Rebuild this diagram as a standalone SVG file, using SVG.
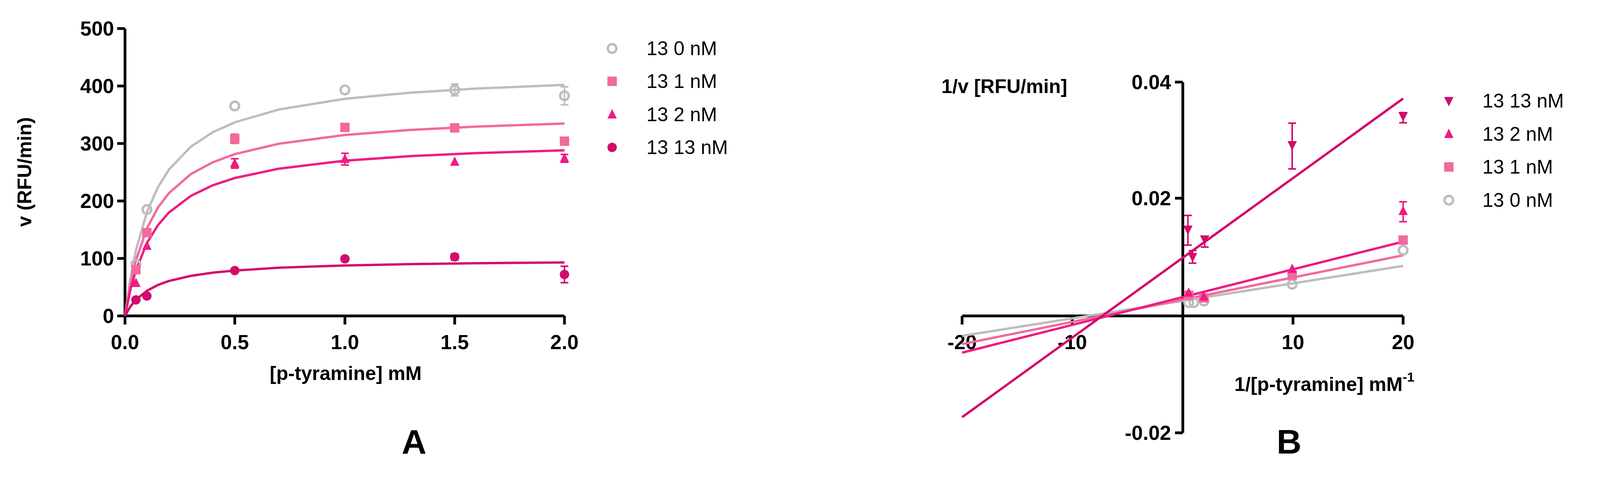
<svg xmlns="http://www.w3.org/2000/svg" width="4116" height="1220" viewBox="0 0 4116 1220">
<style>
text{font-family:"Liberation Sans",Arial,sans-serif;fill:#000}
.tk{font-size:52px;font-weight:bold}
.tl{font-size:50px;font-weight:bold}
.lg{font-size:50px}
.ax{stroke:#000;stroke-width:7;fill:none}
.c0{stroke:#bdbdbd;fill:#bdbdbd}
.c1{stroke:#f26a9b;fill:#f26a9b}
.c2{stroke:#ee1c84;fill:#ee1c84}
.c3{stroke:#d20c6b;fill:#d20c6b}
.fit{fill:none;stroke-width:6}
.eb{fill:none;stroke-width:4}
</style>
<defs>
<circle id="mc" r="11" fill="none" stroke-width="6"/>
<rect id="ms" x="-12" y="-12" width="24" height="24" stroke="none"/>
<polygon id="mu" points="0,-14 12,10 -12,10" stroke="none"/>
<polygon id="md" points="0,14 12,-10 -12,-10" stroke="none"/>
<circle id="mf" r="12" stroke="none"/>
</defs>
<g id="panelA">
<g id="axesA">
<path class="ax" d="M320,73 V808 H1445 M300,73 H320 M300,220 H320 M300,367 H320 M300,514 H320 M300,661 H320 M300,808 H320 M320,808 V830 M601,808 V830 M883,808 V830 M1164,808 V830 M1445,808 V830"/>
<g class="tk" text-anchor="end">
<text x="292" y="91">500</text><text x="292" y="238">400</text><text x="292" y="385">300</text><text x="292" y="532">200</text><text x="292" y="679">100</text><text x="292" y="826">0</text>
</g>
<g class="tk" text-anchor="middle">
<text x="320" y="893">0.0</text><text x="601" y="893">0.5</text><text x="883" y="893">1.0</text><text x="1164" y="893">1.5</text><text x="1445" y="893">2.0</text>
</g>
<text class="tl" text-anchor="middle" transform="translate(80,440) rotate(-90)">v (RFU/min)</text>
<text class="tl" x="885" y="972" text-anchor="middle">[p-tyramine] mM</text>
<text x="1060" y="1160" text-anchor="middle" font-size="88" font-weight="bold">A</text>
</g>
<g id="fitsA">
<polyline class="fit c0" points="320,808 334,710.8 348.1,639.5 376.3,542.1 404.4,478.6 432.5,433.7 488.8,375 545,338 601.3,312.7 713.8,280.1 882.5,252.8 1051.3,236.9 1220,226.5 1445,217.1"/>
<polyline class="fit c1" points="320,808 334,725.5 348.1,665.4 376.3,583.7 404.4,530.8 432.5,493.7 488.8,445.2 545,414.9 601.3,394.2 713.8,367.6 882.5,345.2 1051.3,332.3 1220,323.8 1445,316.1"/>
<polyline class="fit c2" points="320,808 334,740.5 348.1,690.5 376.3,621.3 404.4,575.7 432.5,543.5 488.8,500.8 545,473.9 601.3,455.2 713.8,431.4 882.5,411.1 1051.3,399.3 1220,391.5 1445,384.6"/>
<polyline class="fit c3" points="320,808 334,783.8 348.1,766.5 376.3,743.5 404.4,728.8 432.5,718.6 488.8,705.5 545,697.3 601.3,691.9 713.8,684.8 882.5,678.9 1051.3,675.5 1220,673.3 1445,671.3"/>
</g>
<g id="errA">
<path class="eb c0" d="M1164,215 V245 M1154,215 H1174 M1154,245 H1174 M1445,222 V268 M1435,222 H1455 M1435,268 H1455"/>
<path class="eb c1" d="M601,343 V367 M591,343 H611 M591,367 H611 M883,316 V336 M873,316 H893 M873,336 H893"/>
<path class="eb c2" d="M601,406 V430 M591,406 H611 M591,430 H611 M883,392 V422 M873,392 H893 M873,422 H893 M1445,395 V415 M1435,395 H1455 M1435,415 H1455"/>
<path class="eb c3" d="M1164,649 V665 M1154,649 H1174 M1154,665 H1174 M1445,681 V723 M1435,681 H1455 M1435,723 H1455"/>
</g>
<g id="ptsA">
<g class="c0"><use href="#mc" x="348" y="676"/><use href="#mc" x="376" y="536"/><use href="#mc" x="601" y="271"/><use href="#mc" x="883" y="230"/><use href="#mc" x="1164" y="230"/><use href="#mc" x="1445" y="245"/></g>
<g class="c1"><use href="#ms" x="348" y="690"/><use href="#ms" x="376" y="595"/><use href="#ms" x="601" y="355"/><use href="#ms" x="883" y="326"/><use href="#ms" x="1164" y="327"/><use href="#ms" x="1445" y="361"/></g>
<g class="c2"><use href="#mu" x="348" y="724"/><use href="#mu" x="376" y="629"/><use href="#mu" x="601" y="418"/><use href="#mu" x="883" y="407"/><use href="#mu" x="1164" y="414"/><use href="#mu" x="1445" y="405"/></g>
<g class="c3"><use href="#mf" x="348" y="767"/><use href="#mf" x="376" y="757"/><use href="#mf" x="601" y="692"/><use href="#mf" x="883" y="662"/><use href="#mf" x="1164" y="657"/><use href="#mf" x="1445" y="702"/></g>
</g>
<g id="legendA">
<use href="#mc" class="c0" x="1567" y="124"/><text class="lg" x="1655" y="141">13  0 nM</text>
<use href="#ms" class="c1" x="1567" y="208"/><text class="lg" x="1655" y="225">13  1 nM</text>
<use href="#mu" class="c2" x="1567" y="293"/><text class="lg" x="1655" y="310">13  2 nM</text>
<use href="#mf" class="c3" x="1567" y="377"/><text class="lg" x="1655" y="394">13  13 nM</text>
</g>
</g>
<g id="panelB">
<g id="axesB">
<path class="ax" d="M3028,210 V1107 M2463,808 H3592 M3008,210 H3028 M3008,507 H3028 M3008,1107 H3028 M2463,808 V830 M2745,808 V830 M3310,808 V830 M3592,808 V830"/>
<g class="tk" text-anchor="end">
<text x="2998" y="228">0.04</text><text x="2998" y="525">0.02</text><text x="2998" y="1125">-0.02</text>
</g>
<g class="tk" text-anchor="middle">
<text x="2463" y="893">-20</text><text x="2745" y="893">-10</text><text x="3310" y="893">10</text><text x="3592" y="893">20</text>
</g>
<text class="tl" x="2410" y="238">1/v [RFU/min]</text>
<text class="tl" x="3160" y="1000">1/[p-tyramine] mM<tspan dy="-24" font-size="34">-1</tspan></text>
<text x="3300" y="1160" text-anchor="middle" font-size="88" font-weight="bold">B</text>
</g>
<g id="fitsB">
<line class="fit c0" x1="2463" y1="859" x2="3592" y2="680"/>
<line class="fit c1" x1="2463" y1="880" x2="3592" y2="653"/>
<line class="fit c2" x1="2463" y1="902" x2="3592" y2="618"/>
<line class="fit c3" x1="2463" y1="1067" x2="3592" y2="252"/>
</g>
<g id="errB">
<path class="eb c3" d="M3041,551 V627 M3031,551 H3051 M3031,627 H3051 M3053,641 V673 M3043,641 H3063 M3043,673 H3063 M3084,604 V632 M3074,604 H3094 M3074,632 H3094 M3308,315 V432 M3298,315 H3318 M3298,432 H3318 M3592,288 V314 M3582,288 H3602 M3582,314 H3602"/>
<path class="eb c2" d="M3592,516 V567 M3582,516 H3602 M3582,567 H3602"/>
</g>
<g id="ptsB">
<g class="c0"><use href="#mc" x="3592" y="640"/><use href="#mc" x="3308" y="727"/><use href="#mc" x="3043" y="774"/><use href="#mc" x="3082" y="770"/><use href="#mc" x="3056" y="774"/></g>
<g class="c1"><use href="#ms" x="3592" y="614"/><use href="#ms" x="3308" y="704"/><use href="#ms" x="3043" y="755"/><use href="#ms" x="3082" y="762"/></g>
<g class="c2"><use href="#mu" x="3592" y="540"/><use href="#mu" x="3308" y="688"/><use href="#mu" x="3043" y="749"/><use href="#mu" x="3082" y="759"/></g>
<g class="c3"><use href="#md" x="3041" y="587"/><use href="#md" x="3053" y="657"/><use href="#md" x="3084" y="612"/><use href="#md" x="3308" y="371"/><use href="#md" x="3592" y="297"/></g>
</g>
<g id="legendB">
<use href="#md" class="c3" x="3709" y="258"/><text class="lg" x="3795" y="275">13  13 nM</text>
<use href="#mu" class="c2" x="3709" y="343"/><text class="lg" x="3795" y="360">13  2 nM</text>
<use href="#ms" class="c1" x="3709" y="427"/><text class="lg" x="3795" y="444">13  1 nM</text>
<use href="#mc" class="c0" x="3709" y="512"/><text class="lg" x="3795" y="529">13  0 nM</text>
</g>
</g>
</svg>
